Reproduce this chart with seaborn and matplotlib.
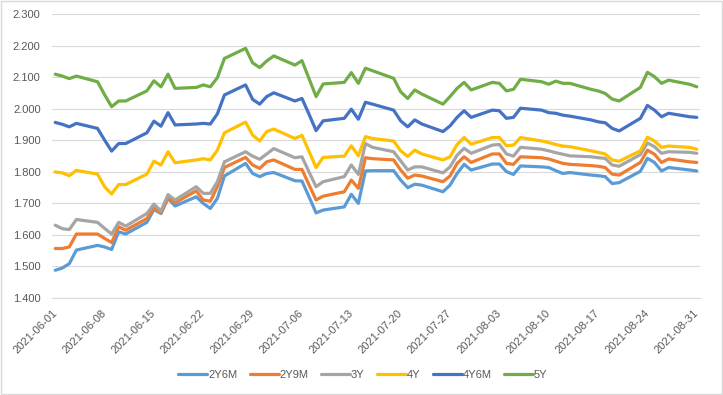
import pandas as pd
import seaborn as sns
import matplotlib.pyplot as plt
from matplotlib.patches import Rectangle

# trading days, Jun-Aug 2021
dates = [
    "2021-06-01", "2021-06-02", "2021-06-03", "2021-06-04", "2021-06-07", "2021-06-08",
    "2021-06-09", "2021-06-10", "2021-06-11", "2021-06-14", "2021-06-15", "2021-06-16",
    "2021-06-17", "2021-06-18", "2021-06-21", "2021-06-22", "2021-06-23", "2021-06-24",
    "2021-06-25", "2021-06-28", "2021-06-29", "2021-06-30",
    "2021-07-01", "2021-07-02", "2021-07-05", "2021-07-06", "2021-07-07", "2021-07-08",
    "2021-07-09", "2021-07-12", "2021-07-13", "2021-07-14", "2021-07-15", "2021-07-16",
    "2021-07-19", "2021-07-20", "2021-07-21", "2021-07-22", "2021-07-23", "2021-07-26",
    "2021-07-27", "2021-07-28", "2021-07-29", "2021-07-30",
    "2021-08-02", "2021-08-03", "2021-08-04", "2021-08-05", "2021-08-06", "2021-08-09",
    "2021-08-10", "2021-08-11", "2021-08-12", "2021-08-13", "2021-08-16", "2021-08-17",
    "2021-08-18", "2021-08-19", "2021-08-20", "2021-08-23", "2021-08-24", "2021-08-25",
    "2021-08-26", "2021-08-27", "2021-08-30", "2021-08-31",
]

y2y6m = [
    1.488, 1.495, 1.509, 1.552, 1.567, 1.562, 1.554, 1.610, 1.603, 1.640, 1.681, 1.668,
    1.716, 1.692, 1.721, 1.700, 1.684, 1.716, 1.787, 1.827, 1.795, 1.785,
    1.795, 1.798, 1.772, 1.771, 1.721, 1.670, 1.679, 1.689, 1.729, 1.700, 1.803, 1.804,
    1.804, 1.774, 1.750, 1.761, 1.758, 1.737, 1.758, 1.795, 1.824, 1.806,
    1.825, 1.825, 1.801, 1.792, 1.819, 1.816, 1.814, 1.804, 1.795, 1.798, 1.790, 1.788,
    1.785, 1.763, 1.766, 1.802, 1.843, 1.830, 1.803, 1.814, 1.806, 1.803,
]
y2y9m = [
    1.557, 1.557, 1.562, 1.603, 1.603, 1.589, 1.576, 1.626, 1.615, 1.652, 1.686, 1.670,
    1.718, 1.702, 1.740, 1.711, 1.707, 1.753, 1.814, 1.846, 1.822, 1.811,
    1.832, 1.838, 1.808, 1.808, 1.759, 1.711, 1.723, 1.737, 1.774, 1.748, 1.845, 1.842,
    1.838, 1.806, 1.780, 1.790, 1.787, 1.769, 1.787, 1.827, 1.848, 1.830,
    1.857, 1.857, 1.827, 1.824, 1.848, 1.845, 1.841, 1.834, 1.827, 1.824, 1.820, 1.818,
    1.814, 1.793, 1.790, 1.830, 1.869, 1.856, 1.830, 1.841, 1.832, 1.830,
]
y3y = [
    1.631, 1.620, 1.617, 1.649, 1.640, 1.621, 1.603, 1.640, 1.628, 1.668, 1.698, 1.676,
    1.728, 1.711, 1.753, 1.732, 1.732, 1.769, 1.832, 1.864, 1.850, 1.840,
    1.857, 1.874, 1.845, 1.848, 1.800, 1.753, 1.769, 1.785, 1.822, 1.792, 1.890, 1.878,
    1.864, 1.835, 1.806, 1.816, 1.816, 1.797, 1.816, 1.853, 1.875, 1.859,
    1.885, 1.887, 1.857, 1.850, 1.878, 1.872, 1.867, 1.861, 1.856, 1.851, 1.848, 1.845,
    1.843, 1.822, 1.818, 1.855, 1.892, 1.880, 1.859, 1.864, 1.862, 1.859,
]
y4y = [
    1.800, 1.797, 1.788, 1.805, 1.793, 1.753, 1.730, 1.760, 1.760, 1.793, 1.834, 1.822,
    1.864, 1.829, 1.838, 1.842, 1.838, 1.869, 1.924, 1.958, 1.917, 1.898,
    1.928, 1.936, 1.906, 1.916, 1.865, 1.814, 1.846, 1.850, 1.883, 1.851, 1.912, 1.906,
    1.898, 1.867, 1.849, 1.869, 1.857, 1.838, 1.848, 1.887, 1.909, 1.888,
    1.909, 1.909, 1.883, 1.885, 1.909, 1.898, 1.893, 1.887, 1.882, 1.880, 1.867, 1.862,
    1.857, 1.838, 1.834, 1.867, 1.910, 1.898, 1.878, 1.882, 1.878, 1.872,
]
y4y6m = [
    1.957, 1.951, 1.943, 1.954, 1.938, 1.901, 1.866, 1.890, 1.890, 1.924, 1.961, 1.945,
    1.988, 1.949, 1.952, 1.954, 1.952, 1.984, 2.044, 2.076, 2.030, 2.015,
    2.039, 2.051, 2.025, 2.033, 1.983, 1.931, 1.962, 1.970, 1.999, 1.967, 2.021, 2.015,
    1.996, 1.962, 1.943, 1.965, 1.952, 1.928, 1.946, 1.973, 1.994, 1.973,
    1.996, 1.994, 1.970, 1.973, 2.002, 1.996, 1.988, 1.986, 1.980, 1.977, 1.965, 1.959,
    1.956, 1.938, 1.930, 1.970, 2.011, 1.996, 1.975, 1.986, 1.975, 1.973,
]
y5y = [
    2.110, 2.104, 2.096, 2.104, 2.086, 2.045, 2.007, 2.025, 2.025, 2.057, 2.089, 2.070,
    2.110, 2.065, 2.068, 2.076, 2.070, 2.099, 2.160, 2.192, 2.146, 2.131,
    2.152, 2.168, 2.139, 2.153, 2.096, 2.039, 2.079, 2.084, 2.115, 2.081, 2.129, 2.121,
    2.097, 2.054, 2.033, 2.060, 2.047, 2.015, 2.039, 2.065, 2.084, 2.060,
    2.084, 2.081, 2.057, 2.062, 2.094, 2.086, 2.078, 2.088, 2.081, 2.081, 2.062, 2.057,
    2.049, 2.031, 2.025, 2.068, 2.116, 2.102, 2.081, 2.091, 2.078, 2.070,
]

series = ["2Y6M", "2Y9M", "3Y", "4Y", "4Y6M", "5Y"]
colors = ["#5B9BD5", "#ED7D31", "#A5A5A5", "#FFC000", "#4472C4", "#70AD47"]

df = pd.DataFrame({"date": pd.to_datetime(dates), "2Y6M": y2y6m, "2Y9M": y2y9m,
                   "3Y": y3y, "4Y": y4y, "4Y6M": y4y6m, "5Y": y5y})
long = df.melt(id_vars="date", var_name="series", value_name="rate")
# Excel date axis puts each point in the middle of its day slot
long["x"] = long["date"] + pd.Timedelta(hours=12)

sns.set_style("white")
plt.rcParams["font.family"] = ["Liberation Sans", "DejaVu Sans"]
txt = "#595959"
grid = "#d9d9d9"

fig = plt.figure(figsize=(7.23, 3.95), dpi=100)
ax = fig.add_axes([51.7 / 723, 1 - 298 / 395, 648.6 / 723, 283.7 / 395])

sns.lineplot(data=long, x="x", y="rate", hue="series", hue_order=series,
             palette=dict(zip(series, colors)), linewidth=2.3, ax=ax)
for ln in ax.lines:
    ln.set_solid_joinstyle("round")

ax.set_ylim(1.4, 2.3)
ax.set_yticks([1.4 + 0.1 * i for i in range(10)])
ax.yaxis.set_major_formatter(plt.FuncFormatter(lambda v, _: f"{v:.3f}"))
ax.set_xlim(pd.Timestamp("2021-06-01"), pd.Timestamp("2021-09-01"))
ticks = pd.date_range("2021-06-01", "2021-08-31", freq="7D")
ax.set_xticks(ticks)
ax.set_xticklabels([t.strftime("%Y-%m-%d") for t in ticks], rotation=45,
                   ha="right", rotation_mode="anchor")

ax.grid(axis="y", color=grid, linewidth=0.8)
ax.grid(axis="x", visible=False)
for s in ["top", "right", "left"]:
    ax.spines[s].set_visible(False)
ax.spines["bottom"].set_color(grid)
ax.tick_params(axis="y", length=0, pad=8, labelsize=8, labelcolor=txt)
ax.tick_params(axis="x", length=4, color=grid, pad=3, labelsize=8, labelcolor=txt)
ax.set_xlabel("")
ax.set_ylabel("")

sns.move_legend(ax, "center", bbox_to_anchor=(0.48, -0.271), ncol=6, frameon=False,
                title=None, fontsize=8, handlelength=2.6, handletextpad=0.1,
                columnspacing=1.1, labelcolor=txt)
for h in ax.get_legend().legend_handles:
    h.set_linewidth(2.3)

fig.add_artist(Rectangle((0.001, 0.002), 0.997, 0.996, transform=fig.transFigure,
                         fill=False, edgecolor=grid, linewidth=1))

fig.savefig("out.png", dpi=100)
